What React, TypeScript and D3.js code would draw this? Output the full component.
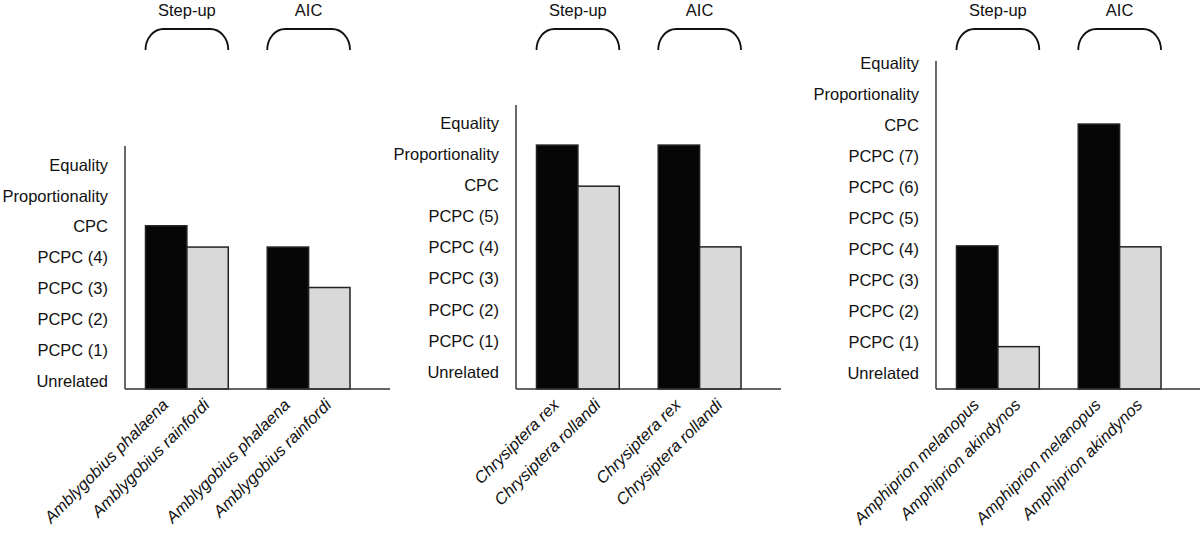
import React from "react";
import * as d3 from "d3";

const groups = ["Step-up", "AIC"];

const levels1 = ["Unrelated", "PCPC (1)", "PCPC (2)", "PCPC (3)", "PCPC (4)", "CPC", "Proportionality", "Equality"];
const species1 = ["Amblygobius phalaena", "Amblygobius rainfordi"];
const stepUp1 = [5.03, 4.34];
const aic1 = [4.34, 3.03];

const levels2 = ["Unrelated", "PCPC (1)", "PCPC (2)", "PCPC (3)", "PCPC (4)", "PCPC (5)", "CPC", "Proportionality", "Equality"];
const species2 = ["Chrysiptera rex", "Chrysiptera rollandi"];
const stepUp2 = [7.29, 5.97];
const aic2 = [7.29, 4.02];

const levels3 = ["Unrelated", "PCPC (1)", "PCPC (2)", "PCPC (3)", "PCPC (4)", "PCPC (5)", "PCPC (6)", "PCPC (7)", "CPC", "Proportionality", "Equality"];
const species3 = ["Amphiprion melanopus", "Amphiprion akindynos"];
const stepUp3 = [4.1, 0.85];
const aic3 = [8.03, 4.07];

const FONT = "'Liberation Sans', Arial, Helvetica, sans-serif";
const FS = 16.5;
const BASE_Y = 389;
const FILLS = ["#060606", "#d9d9d9"];

type PanelProps = {
  levels: string[];
  species: string[];
  values: number[][];
  axisX: number;
  yRange: [number, number];
  axisTop: number;
};

function Panel({ levels, species, values, axisX, yRange, axisTop }: PanelProps) {
  const y = d3.scaleLinear().domain([0, levels.length - 1]).range(yRange);
  const gx = d3
    .scaleBand<string>()
    .domain(groups)
    .range([axisX + 20.5, axisX + 225])
    .paddingInner(0.32);
  const sx = d3.scaleBand<string>().domain(species).range([0, gx.bandwidth()]);

  return (
    <g>
      {groups.map((g) => {
        const x0 = gx(g)!;
        const x1 = x0 + gx.bandwidth();
        const top = 29;
        const bot = 50;
        const rx = 18;
        const d = `M${x0},${bot} A${rx} ${bot - top} 0 0 1 ${x0 + rx},${top} L${x1 - rx},${top} A${rx} ${bot - top} 0 0 1 ${x1},${bot}`;
        return (
          <g key={g}>
            <path d={d} fill="none" stroke="#111" strokeWidth={1.8} />
            <text x={(x0 + x1) / 2} y={15.5} textAnchor="middle" fontSize={FS} fontFamily={FONT} fill="#111">
              {g}
            </text>
          </g>
        );
      })}
      {levels.map((l, i) => (
        <text
          key={l}
          x={axisX - 17}
          y={y(i)}
          dy="0.35em"
          textAnchor="end"
          fontSize={FS}
          fontFamily={FONT}
          fill="#111"
        >
          {l}
        </text>
      ))}
      {groups.map((g, gi) =>
        species.map((s, si) => {
          const x = gx(g)! + sx(s)!;
          const top = y(values[gi][si]);
          return (
            <rect
              key={g + s}
              x={x}
              y={top}
              width={sx.bandwidth()}
              height={BASE_Y - top}
              fill={FILLS[si]}
              stroke="#222"
              strokeWidth={1.5}
            />
          );
        })
      )}
      <line x1={axisX} x2={axisX} y1={axisTop} y2={BASE_Y} stroke="#444" strokeWidth={1.6} />
      <line x1={axisX} x2={axisX + 265} y1={BASE_Y} y2={BASE_Y} stroke="#333" strokeWidth={1.6} />
      {groups.map((g) =>
        species.map((s) => {
          const cx = gx(g)! + sx(s)! + sx.bandwidth() / 2;
          return (
            <text
              key={g + s + "lab"}
              transform={`translate(${cx + 3},${BASE_Y + 17}) rotate(-45)`}
              textAnchor="end"
              fontSize={FS}
              fontStyle="italic"
              fontFamily={FONT}
              fill="#111"
            >
              {s}
            </text>
          );
        })
      )}
    </g>
  );
}

export default function App() {
  return (
    <svg
      width={1200}
      height={533}
      style={{ position: "absolute", left: 0, top: 0, background: "#fff" }}
    >
      <rect width={1200} height={533} fill="#fff" />
      <Panel levels={levels1} species={species1} values={[stepUp1, aic1]} axisX={125} yRange={[381, 165]} axisTop={146} />
      <Panel levels={levels2} species={species2} values={[stepUp2, aic2]} axisX={516} yRange={[372, 123]} axisTop={105} />
      <Panel levels={levels3} species={species3} values={[stepUp3, aic3]} axisX={936} yRange={[373, 63]} axisTop={61} />
    </svg>
  );
}
